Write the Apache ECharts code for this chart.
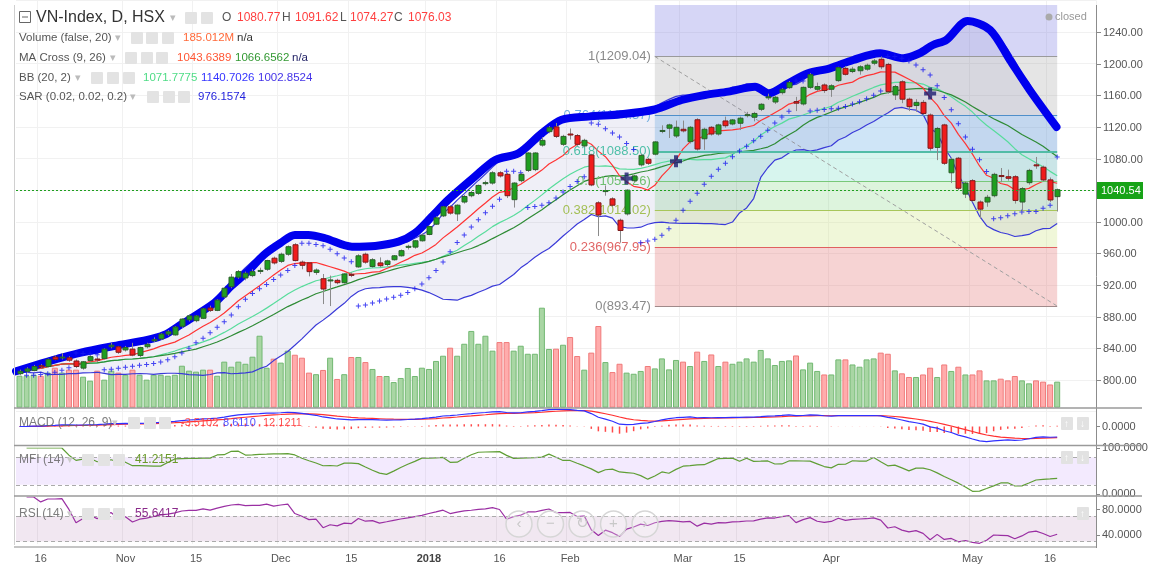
<!DOCTYPE html>
<html>
<head>
<meta charset="utf-8">
<title>VN-Index, D, HSX</title>
<script src="https://cdn.jsdelivr.net/npm/echarts@6.0.0/dist/echarts.min.js"></script>
<style>
  html, body { margin: 0; padding: 0; background: #fff; }
  #main { width: 1151px; height: 564px; }
</style>
</head>
<body>
<div id="main"></div>
<script>
// daily bars, 11 Oct 2017 .. 17 May 2018
var tickIdx = [3, 15, 25, 37, 47, 58, 68, 78, 94, 102, 115, 135, 146];
var tickText = ['16', 'Nov', '15', 'Dec', '15', '2018', '16', 'Feb', 'Mar', '15', 'Apr', 'May', '16'];
var priceTicks = [800, 840, 880, 920, 960, 1000, 1040, 1080, 1120, 1160, 1200, 1240];

var openP = [808,811,812,818,817,829,828,828,824,815, 824.5,826.5,827,842,842,838,839,831,842,849.5,
  852,858,857,868,876,875,878,891,888,905, 918,930,929,932,937.5,940,954,950,959,971,
  949,948,936,928,925.5,926,923,933.5,943,959, 943.5,948,946,952,957,968,968,976,984,997,
  1007.5,1019,1010,1025,1033,1036,1048.5,1049,1062,1060, 1028,1052,1065,1066,1097,1114,1120,1098,1111,1109,
  1096,1084.5,1024,1038.5,1029,1002,1010,1052,1072,1079, 1085.5,1114.5,1118.3,1108.5,1117,1101.4,1129,1105,1119.5,1111,
  1127.5,1123.7,1124.6,1134.5,1132.2,1142.3,1157,1151.5,1163.3,1169.6, 1152,1149,1170,1167.6,1173,1167.6,1178.5,1194,1190,1191,
  1193,1200.5,1205.5,1199,1160.4,1177,1155,1147,1151,1135, 1094,1122.5,1062,1080.4,1035,1052,1025,1025,1033,1058.5,
  1057,1057,1025,1049.5,1072,1069,1053,1031.8];
var closeP = [811,814,817,816.5,826,826,829,825,817,823, 829.5,826,839,844,835,841,831.5,841,845,851,
  858,861,867,877,881,881,890,888,901,916, 930,937,935,937,938.5,951,948,959,968.5,951,
  945,937,939,915,926.5,923,934,932.5,957,949, 952,944.5,950.5,957,963.5,969,976,983,994,1005,
  1019,1011,1021,1032,1037,1046,1049.5,1062,1058,1033, 1049,1060,1087,1087,1103,1119,1108,1108,1110,1098,
  1103,1046.6,1008.6,1039.5,1021,989,1040,1058,1084,1074, 1101,1115.5,1122.5,1119.5,1115,1119.5,1092,1117,1111,1122.5,
  1121.5,1128.8,1131,1135.5,1137,1148.6,1158,1157.5,1167.6,1176, 1150,1170,1186,1171,1166,1172,1195,1186.5,1193,1196,
  1198,1203.4,1196,1164.6,1171,1155,1145.6,1151,1137,1093, 1118,1074,1079,1042.4,1049,1027,1016,1031,1060,1057.5,
  1055,1027,1042,1065,1071,1053,1027.6,1040.54];
var highP = [813,816,819,820,827,831,834,830,826,824, 831,829,840,847,843,843,847,842,847,854,
  859,863,868,878,883,882,891,894,902,917, 934,939,937,940,942,952,956,961,970,973,
  951,949,941,934,932,928,935,936,959,961, 954,955,952,958,965,971,977,985,995,1007,
  1020,1021,1022,1034,1039,1047,1052,1064,1064,1062, 1050,1062,1088,1088,1107,1121,1125,1110,1118,1111,
  1105,1086,1026,1046,1031,1004,1041,1059,1086,1081, 1102,1122,1124,1128,1128,1121,1131,1119,1121,1124,
  1133,1130,1133,1139,1139,1150,1162,1159,1169,1178, 1158,1171,1188,1176,1175,1174,1196,1197,1196,1198,
  1200,1206,1209.04,1201,1173,1179,1157,1155,1154,1137, 1120,1124,1081,1082,1051,1054,1027,1034,1062,1068,
  1066,1059,1044,1067,1082,1071,1056,1042];
var lowP = [806,809,811,815,816,825,826,823,815,813, 823,823,826,840,833,836,830,829,840,848,
  851,856,856,866,874,873,877,886,887,904, 916,928,926,930,934,938,946,948,957,950,
  940,931,933,896,893.47,921,922,930,942,947, 942,943,944,951,956,965,966,975,983,996,
  1006,1009,1001,1023,1031,1034,1046,1047,1056,1030, 1018,1050,1063,1064,1095,1112,1106,1096,1104,1096,
  1094,1045,982,1033,1019,973.6,1008,1050,1070,1072, 1084,1112,1106,1106,1113,1099,1090,1091,1109,1109,
  1119,1122,1116,1132,1127,1140,1154,1149,1161,1168, 1140,1147,1168,1165,1163,1158,1177,1185,1188,1186,
  1191,1198,1193,1162,1154,1150,1140,1139,1135,1090, 1078,1072,1049,1040,1030,1025,1004,1019,1031,1050,
  1052,1023,1013,1047,1067,1051,1025,1013];
// volume, millions of shares
var volume = [227,227,234,227,249,284,249,270,270,220, 192,263,199,263,249,234,270,234,199,234,
  234,227,234,298,263,256,270,270,227,327, 291,327,312,362,511,284,348,320,405,376,
  355,249,238,268,355,204,238,360,360,324, 275,225,225,182,211,282,225,284,275,332,
  369,426,369,454,545,454,511,405,466,466, 405,440,383,383,710,417,419,447,502,367,
  270,391,580,324,253,312,249,241,261,296, 279,350,272,339,327,296,398,332,378,296,
  327,312,327,350,327,410,350,303,332,336, 371,272,320,261,236,236,343,343,307,291,
  343,350,391,383,265,244,218,218,236,284, 218,307,261,291,236,236,265,194,194,206,
  194,225,194,173,194,185,165,185];

// hand drawn blue brush (bar position, price)
var brushIdx = [-0.5,3.9,8.7,13.4,18.1,20.5,22.8,27.6,29.9,32.3, 34.6,37.0,39.0,40.9,43.3,47.1,50.4,53.7,56.0,58.4,
  60.7,64.5,67.4,70.7,74.0,76.8,80.6,85.3,90.0,93.8, 97.1,100.4,104.2,106.1,108.9,111.7,114.8,118.1,121.9,125.2,
  127.5,129.4,131.3,134.3,137.5,140.3,143.1,146.9];
var brushVal = [811,823,834.5,843,850.6,856.9,869.6,897.4,918,937, 958.1,973.3,983.4,983.4,979.2,968.6,969.5,974.9,985.5,1006.5,
  1027.6,1057.1,1078.2,1086.7,1112,1129,1133,1136,1142,1154, 1160.4,1164.6,1170.9,1162.5,1175.2,1187.8,1194.1,1204.6,1213.1,1206.8,
  1213.1,1223.6,1229.9,1254,1242.6,1204.6,1166.7,1119.9];

// fibonacci retracement drawing
var fibStart = 90, fibEnd = 147;
var fibRatios = ['1', '0.764', '0.618', '0.5', '0.382', '0.236', '0'];
var fibPrices = [1209.04, 1134.57, 1088.50, 1051.26, 1014.02, 967.95, 893.47];
var fibTop = 1274;

var FONT = '"Liberation Sans", Arial, sans-serif';
var N = 153;
var n = closeP.length;
var cats = [];
for (var i = 0; i < N; i++) cats.push(String(i));

// price pane geometry
var PRICE_MIN = 760, PRICE_MAX = 1280, PRICE_TOP = 0.36, PRICE_H = 411.25;
function priceY(v) { return PRICE_TOP + (PRICE_MAX - v) / (PRICE_MAX - PRICE_MIN) * PRICE_H; }

function sma(src, len) {
  return src.map(function (v, i) {
    var from = Math.max(0, i - len + 1), s = 0;
    for (var k = from; k <= i; k++) s += src[k];
    return s / (i - from + 1);
  });
}
function stdev(src, len, mean) {
  return src.map(function (v, i) {
    var from = Math.max(0, i - len + 1), s = 0;
    for (var k = from; k <= i; k++) s += Math.pow(src[k] - mean[i], 2);
    return Math.sqrt(s / (i - from + 1));
  });
}
function ema(src, len) {
  var a = 2 / (len + 1), prev = src[0];
  return src.map(function (v, i) {
    prev = i === 0 ? v : a * v + (1 - a) * prev;
    return prev;
  });
}
function rsi(src, len) {
  var out = [null], ag = 0, al = 0;
  for (var i = 1; i < src.length; i++) {
    var d = src[i] - src[i - 1], g = Math.max(d, 0), l = Math.max(-d, 0);
    if (i <= len) { ag = (ag * (i - 1) + g) / i; al = (al * (i - 1) + l) / i; }
    else { ag = (ag * (len - 1) + g) / len; al = (al * (len - 1) + l) / len; }
    out.push(al === 0 ? 100 : 100 - 100 / (1 + ag / al));
  }
  return out;
}
function mfi(h, l, c, v, len) {
  var tp = c.map(function (x, i) { return (h[i] + l[i] + x) / 3; });
  var out = [null];
  for (var i = 1; i < c.length; i++) {
    var pos = 0, neg = 0;
    for (var k = Math.max(1, i - len + 1); k <= i; k++) {
      var mf = tp[k] * v[k];
      if (tp[k] > tp[k - 1]) pos += mf; else if (tp[k] < tp[k - 1]) neg += mf;
    }
    out.push(neg === 0 ? 100 : 100 - 100 / (1 + pos / neg));
  }
  return out;
}
function psar(h, l, step, maxStep) {
  var up = closeP[1] >= closeP[0], af = step;
  var ep = up ? h[0] : l[0], s = up ? l[0] : h[0];
  var out = [null];
  for (var i = 1; i < h.length; i++) {
    s = s + af * (ep - s);
    if (up) {
      s = Math.min(s, l[i - 1], l[Math.max(0, i - 2)]);
      if (l[i] < s) { up = false; s = ep; ep = l[i]; af = step; }
      else if (h[i] > ep) { ep = h[i]; af = Math.min(af + step, maxStep); }
    } else {
      s = Math.max(s, h[i - 1], h[Math.max(0, i - 2)]);
      if (h[i] > s) { up = true; s = ep; ep = h[i]; af = step; }
      else if (l[i] < ep) { ep = l[i]; af = Math.min(af + step, maxStep); }
    }
    out.push(s);
  }
  return out;
}

var ma9 = sma(closeP, 9);
var ma26 = sma(closeP, 26);
var bbMid = sma(closeP, 20);
var bbDev = stdev(closeP, 20, bbMid);
var bbUp = bbMid.map(function (m, i) { return m + 2 * bbDev[i]; });
var bbLo = bbMid.map(function (m, i) { return m - 2 * bbDev[i]; });
var sar = psar(highP, lowP, 0.02, 0.2);
var e12 = ema(closeP, 12), e26 = ema(closeP, 26);
var macd = e12.map(function (v, i) { return v - e26[i]; });
var signal = ema(macd, 9);
var hist = macd.map(function (v, i) { return v - signal[i]; });
var rsiV = rsi(closeP, 14);
var mfiV = mfi(highP, lowP, closeP, volume, 14);

var crossPts = [];
for (i = 27; i < n; i++) {
  var a = ma9[i] - ma26[i], b = ma9[i - 1] - ma26[i - 1];
  if (a * b < 0) crossPts.push([i, (ma9[i] + ma26[i]) / 2]);
}
var macdMax = 0;
macd.concat(signal).forEach(function (v) { macdMax = Math.max(macdMax, Math.abs(v)); });
macdMax *= 1.08;

var plus = 'path://M0,2H5V3H0Z M2,0H3V5H2Z';
var bigPlus = 'path://M0,4H12V8H0Z M4,0H8V12H4Z';

function catAxis(g, withLabels, noSplit) {
  return {
    type: 'category', gridIndex: g, data: cats, boundaryGap: true,
    axisLine: { show: false }, axisTick: { show: false },
    axisLabel: {
      show: !!withLabels, color: '#555', fontSize: 11, margin: 9, fontFamily: FONT,
      interval: function (idx) { return tickIdx.indexOf(idx) >= 0; },
      formatter: function (v, idx) {
        var k = tickIdx.indexOf(idx);
        if (k < 0) return '';
        return tickText[k] === '2018' ? '{b|2018}' : tickText[k];
      },
      rich: { b: { fontWeight: 'bold', color: '#444', fontSize: 11, fontFamily: FONT } }
    },
    splitLine: { show: !noSplit, interval: function (idx) { return tickIdx.indexOf(idx) >= 0; }, lineStyle: { color: '#f1f1f1' } }
  };
}
function rightAxis(g, min, max, ticks, digits) {
  return {
    type: 'value', gridIndex: g, position: 'right', min: min, max: max,
    axisLine: { show: false },
    axisTick: { show: true, length: 4, lineStyle: { color: '#888' }, customValues: ticks },
    axisLabel: { color: '#555', fontSize: 11, margin: 6, fontFamily: FONT, customValues: ticks,
      formatter: function (v) { return v.toFixed(digits); } },
    splitLine: { show: false }
  };
}

var fibZoneColors = ['rgba(120,120,225,0.30)', 'rgba(150,150,150,0.25)', 'rgba(110,175,230,0.33)', 'rgba(110,220,195,0.28)',
  'rgba(120,210,120,0.25)', 'rgba(200,225,120,0.28)', 'rgba(225,110,110,0.30)'];
var fibLineColors = ['#9a9a9a', '#4f8fca', '#52bca6', '#79c879', '#a8c65a', '#e06060', '#a08a8a'];
var fibTextColors = ['#8a8a8a', '#72aee0', '#4fbfa8', '#6fbf6f', '#a3bf55', '#e06666', '#8a8a8a'];
var fibZones = [], fibLines = [];
// zone above level 1, then one zone between each pair of levels
fibZones.push([{ coord: [fibStart, fibTop], itemStyle: { color: fibZoneColors[0] } }, { coord: [fibEnd, fibPrices[0]] }]);
for (i = 1; i < fibPrices.length; i++) {
  fibZones.push([{ coord: [fibStart, fibPrices[i - 1]], itemStyle: { color: fibZoneColors[i] } }, { coord: [fibEnd, fibPrices[i]] }]);
}
fibPrices.forEach(function (p, k) {
  fibLines.push([{
    coord: [fibStart, p],
    lineStyle: { color: fibLineColors[k], width: k === 2 ? 2 : 1.2, type: 'solid' },
    label: { show: true, position: 'start', distance: 4, formatter: fibRatios[k] + '(' + p.toFixed(2) + ')',
      color: fibTextColors[k], fontSize: 13, fontFamily: FONT }
  }, { coord: [fibEnd, p] }]);
});

var volData = volume.map(function (v, k) {
  var up = closeP[k] >= openP[k];
  return { value: v, itemStyle: { color: up ? '#a9d6a4' : '#ffacac', borderColor: up ? '#72b872' : '#f07a7a', borderWidth: 1 } };
});

var series = [
  { type: 'line', name: 'fib', xAxisIndex: 1, yAxisIndex: 0, z: 1, silent: true, symbol: 'none',
    data: [[fibStart, fibPrices[0]], [fibEnd, fibPrices[6]]],
    lineStyle: { color: '#a0a0a0', width: 1, type: [4, 3] },
    markArea: { silent: true, data: fibZones },
    markLine: { silent: true, symbol: 'none', data: fibLines } },
  { type: 'line', xAxisIndex: 0, yAxisIndex: 0, stack: 'bb', symbol: 'none', z: 2, silent: true,
    data: bbLo, lineStyle: { opacity: 0 } },
  { type: 'line', xAxisIndex: 0, yAxisIndex: 0, stack: 'bb', symbol: 'none', z: 2, silent: true,
    data: bbUp.map(function (v, k) { return v - bbLo[k]; }), lineStyle: { opacity: 0 },
    areaStyle: { color: 'rgba(70,70,160,0.12)' } },
  { type: 'bar', xAxisIndex: 2, yAxisIndex: 1, z: 3, barWidth: 6, data: volData },
  { type: 'line', xAxisIndex: 0, yAxisIndex: 0, z: 4, symbol: 'none', data: bbUp, lineStyle: { color: '#3a3ad8', width: 1.2 } },
  { type: 'line', xAxisIndex: 0, yAxisIndex: 0, z: 4, symbol: 'none', data: bbLo, lineStyle: { color: '#3a3ad8', width: 1.2 } },
  { type: 'line', xAxisIndex: 0, yAxisIndex: 0, z: 4, symbol: 'none', data: bbMid, lineStyle: { color: '#58dc9c', width: 1.2 } },
  { type: 'line', xAxisIndex: 0, yAxisIndex: 0, z: 4, symbol: 'none', data: ma26, lineStyle: { color: '#2e8b35', width: 1.2 } },
  { type: 'line', xAxisIndex: 0, yAxisIndex: 0, z: 4, symbol: 'none', data: ma9, lineStyle: { color: '#ff3434', width: 1.2 } },
  { type: 'line', xAxisIndex: 1, yAxisIndex: 0, z: 5, symbol: 'none', smooth: 0.3,
    data: brushIdx.map(function (x, k) { return [x, brushVal[k]]; }),
    lineStyle: { color: '#0000ee', width: 8, cap: 'round', join: 'round' } },
  { type: 'scatter', xAxisIndex: 0, yAxisIndex: 0, z: 6, symbol: plus, symbolSize: 5,
    data: sar.map(function (v, k) { return v === null ? null : [k, v]; }).filter(function (d) { return d; }),
    itemStyle: { color: '#1818f0' } },
  { type: 'custom', xAxisIndex: 0, yAxisIndex: 0, z: 7,
    data: openP.map(function (o, k) { return [k, o, closeP[k], lowP[k], highP[k]]; }),
    encode: { x: 0, y: [1, 2, 3, 4] },
    renderItem: function (params, api) {
      var x = api.value(0), o = api.value(1), c = api.value(2), lo = api.value(3), hi = api.value(4);
      var pO = api.coord([x, o]), pC = api.coord([x, c]), pL = api.coord([x, lo]), pH = api.coord([x, hi]);
      var up = c >= o;
      var top = Math.min(pO[1], pC[1]), bot = Math.max(pO[1], pC[1]);
      var cx = Math.round(pO[0]) + 0.5;
      return { type: 'group', children: [
        { type: 'line', shape: { x1: cx, y1: pH[1], x2: cx, y2: pL[1] }, style: { stroke: '#8a8a8a', lineWidth: 1 } },
        { type: 'rect', shape: { x: cx - 2.5, y: top, width: 5, height: Math.max(bot - top, 1) },
          style: { fill: up ? '#1f9e1f' : '#f01c1c', stroke: up ? '#2d5f2d' : '#7c1c1c', lineWidth: 1 } }
      ] };
    } },
  { type: 'scatter', xAxisIndex: 0, yAxisIndex: 0, z: 8, symbol: bigPlus, symbolSize: 12,
    data: crossPts, itemStyle: { color: '#1c1c6e' } },
  // MACD
  { type: 'bar', xAxisIndex: 3, yAxisIndex: 2, barWidth: 1.5, data: hist, itemStyle: { color: '#ff4a4a' } },
  { type: 'line', xAxisIndex: 3, yAxisIndex: 2, symbol: 'none', data: signal, lineStyle: { color: '#ff3030', width: 1.2 } },
  { type: 'line', xAxisIndex: 3, yAxisIndex: 2, symbol: 'none', data: macd, lineStyle: { color: '#3030ff', width: 1.2 } },
  // MFI
  { type: 'line', xAxisIndex: 4, yAxisIndex: 3, symbol: 'none', data: mfiV, lineStyle: { color: '#5f9e35', width: 1.2 },
    markArea: { silent: true, itemStyle: { color: 'rgba(185,130,250,0.17)' }, data: [[{ yAxis: 20 }, { yAxis: 80 }]] },
    markLine: { silent: true, symbol: 'none', lineStyle: { color: '#aaa', type: [4, 3], width: 1 }, label: { show: false },
      data: [{ yAxis: 20 }, { yAxis: 80 }] } },
  // RSI
  { type: 'line', xAxisIndex: 5, yAxisIndex: 4, symbol: 'none', data: rsiV, lineStyle: { color: '#9a2fa3', width: 1.2 },
    markArea: { silent: true, itemStyle: { color: 'rgba(150,70,150,0.13)' }, data: [[{ yAxis: 30 }, { yAxis: 70 }]] },
    markLine: { silent: true, symbol: 'none', lineStyle: { color: '#aaa', type: [4, 3], width: 1 }, label: { show: false },
      data: [{ yAxis: 30 }, { yAxis: 70 }] } }
];

// header texts and widgets
var G = [];
function txt(x, y, s, color, size, extra) {
  var el = { type: 'text', z: 100, silent: true,
    style: { x: x, y: y, text: s, fill: color, font: (size || 11) + 'px ' + FONT, verticalAlign: 'middle', align: 'left' } };
  if (extra) for (var key in extra) el.style[key] = extra[key];
  return el;
}
function box(x, y, w, h, fill) {
  return { type: 'rect', z: 100, silent: true, shape: { x: x, y: y, width: w, height: h, r: 1 }, style: { fill: fill || '#e3e3e3' } };
}
function hline(x1, x2, y, color, w, dash) {
  var el = { type: 'line', z: 90, silent: true, shape: { x1: x1, y1: y, x2: x2, y2: y }, style: { stroke: color, lineWidth: w } };
  if (dash) el.style.lineDash = dash;
  return el;
}
function vline(x, y1, y2, color, w) {
  return { type: 'line', z: 90, silent: true, shape: { x1: x, y1: y1, x2: x, y2: y2 }, style: { stroke: color, lineWidth: w } };
}
function icons(xs, y) {
  xs.forEach(function (x) { G.push(box(x, y - 6, 12, 12)); });
}

// frame
G.push(vline(14.5, 5, 545, '#d0d0d0', 1));
G.push(vline(1096.5, 5, 548, '#8c8c8c', 1));
G.push(hline(14, 1142, 408, '#9a9a9a', 1.5));
G.push(hline(14, 1142, 445.5, '#9a9a9a', 1.5));
G.push(hline(14, 1142, 496, '#9a9a9a', 1.5));
G.push(hline(14, 1097, 547, '#8c8c8c', 1.2));

// price axis ticks and labels, last price line and tag
var lastY = Math.round(priceY(closeP[n - 1])) + 0.5;
priceTicks.forEach(function (v) {
  var y = Math.round(priceY(v)) + 0.5;
  G.push(hline(1097, 1101, y, '#888', 1));
  if (Math.abs(y - lastY) > 10) G.push(txt(1103, y, v.toFixed(2), '#555', 11));
});
var lastLine = hline(16, 1096, lastY, '#1f9f1f', 1, [2, 2]);
lastLine.z = 60;
G.push(lastLine);
G.push({ type: 'rect', z: 100, silent: true, shape: { x: 1097, y: lastY - 8.5, width: 46, height: 17 }, style: { fill: '#17a317' } });
G.push(txt(1101, lastY, closeP[n - 1].toFixed(2), '#fff', 11));

// row 1
G.push({ type: 'rect', z: 100, silent: true, shape: { x: 19.5, y: 11.5, width: 11, height: 11 }, style: { fill: 'none', stroke: '#666', lineWidth: 1 } });
G.push(hline(22, 28, 17, '#666', 1));
G.push(txt(36, 18, 'VN-Index, D, HSX', '#333', 16));
G.push(txt(170, 18, '▾', '#bbb', 11));
icons([185, 201], 18);
G.push(txt(222, 18, 'O', '#555', 12));
G.push(txt(237, 18, '1080.77', '#ff3f3f', 12));
G.push(txt(282, 18, 'H', '#555', 12));
G.push(txt(295, 18, '1091.62', '#ff3f3f', 12));
G.push(txt(340, 18, 'L', '#555', 12));
G.push(txt(350, 18, '1074.27', '#ff3f3f', 12));
G.push(txt(394, 18, 'C', '#555', 12));
G.push(txt(408, 18, '1076.03', '#ff3f3f', 12));
// row 2
G.push(txt(19, 38, 'Volume (false, 20)', '#555', 11.5));
G.push(txt(115, 38, '▾', '#bbb', 11));
icons([131, 146, 162], 38);
G.push(txt(183, 38, '185.012M', '#ff6a3a', 11.5));
G.push(txt(237, 38, 'n/a', '#333', 11.5));
// row 3
G.push(txt(19, 58, 'MA Cross (9, 26)', '#555', 11.5));
G.push(txt(110, 58, '▾', '#bbb', 11));
icons([125, 141, 156], 58);
G.push(txt(177, 58, '1043.6389', '#ff5533', 11.5));
G.push(txt(235, 58, '1066.6562', '#339933', 11.5));
G.push(txt(292, 58, 'n/a', '#222266', 11.5));
// row 4
G.push(txt(19, 78, 'BB (20, 2)', '#555', 11.5));
G.push(txt(75, 78, '▾', '#bbb', 11));
icons([91, 107, 123], 78);
G.push(txt(143, 78, '1071.7775', '#4fdc86', 11.5));
G.push(txt(201, 78, '1140.7026', '#3535ff', 11.5));
G.push(txt(258, 78, '1002.8524', '#4433e8', 11.5));
// row 5
G.push(txt(19, 97, 'SAR (0.02, 0.02, 0.2)', '#555', 11.5));
G.push(txt(130, 97, '▾', '#bbb', 11));
icons([147, 163, 178], 97);
G.push(txt(198, 97, '976.1574', '#2323dd', 11.5));

// sub panes
G.push(txt(19, 423, 'MACD (12, 26, 9)', '#666', 12, { opacity: 0.85 }));
G.push(txt(112, 423, '▾', '#ccc', 11));
icons([128, 144, 159], 423);
G.push(txt(181, 423, '-3.5102', '#ff3b3b', 11, { opacity: 0.9 }));
G.push(txt(223, 423, '8.6110', '#3b3bff', 11, { opacity: 0.9 }));
G.push(txt(263, 423, '12.1211', '#ff3b3b', 11, { opacity: 0.9 }));
G.push(txt(19, 460, 'MFI (14)', '#666', 12, { opacity: 0.85 }));
G.push(txt(67, 460, '▾', '#ccc', 11));
icons([82, 98, 113], 460);
G.push(txt(135, 460, '41.2151', '#6a9a2a', 12));
G.push(txt(19, 514, 'RSI (14)', '#666', 12, { opacity: 0.85 }));
G.push(txt(67, 514, '▾', '#ccc', 11));
icons([82, 98, 113], 514);
G.push(txt(135, 514, '55.6417', '#8a2a8a', 12));

// pane arrows
[[1061, 424, '↑'], [1077, 424, '↓'], [1061, 458, '↑'], [1077, 458, '↓'], [1077, 514, '↑']].forEach(function (p) {
  G.push(box(p[0], p[1] - 7, 12, 13, '#e2e2e2'));
  G.push(txt(p[0] + 3, p[1], p[2], '#fff', 10));
});

// closed marker
G.push({ type: 'circle', z: 100, silent: true, shape: { cx: 1049, cy: 17, r: 3.5 }, style: { fill: '#aaa' } });
G.push(txt(1055, 17, 'closed', '#999', 11));

// navigation buttons
['‹', '−', '↻', '+', '›'].forEach(function (s, k) {
  var cx = 519 + k * 31.5;
  G.push({ type: 'circle', z: 100, silent: true, shape: { cx: cx, cy: 524, r: 13 },
    style: { fill: 'rgba(255,255,255,0.25)', stroke: '#d6d6d6', lineWidth: 1.5 } });
  G.push(txt(cx, 524, s, '#c8c8c8', 15, { align: 'center' }));
});

var chart = echarts.init(document.getElementById('main'), null, { renderer: 'canvas' });
chart.setOption({
  animation: false,
  backgroundColor: '#fff',
  textStyle: { fontFamily: FONT },
  grid: [
    { left: 16, width: 1080, top: PRICE_TOP, height: PRICE_H },
    { left: 16, width: 1080, top: 207.7, height: 200 },
    { left: 16, width: 1080, top: 408, height: 37 },
    { left: 16, width: 1080, top: 448, height: 46 },
    { left: 16, width: 1080, top: 497, height: 48 }
  ],
  xAxis: [
    catAxis(0, false),
    { type: 'value', gridIndex: 0, min: -0.5, max: N - 0.5, show: false, splitLine: { show: false } },
    catAxis(1, false, true),
    catAxis(2, false),
    catAxis(3, false),
    catAxis(4, true)
  ],
  yAxis: [
    { type: 'value', gridIndex: 0, position: 'right', min: PRICE_MIN, max: PRICE_MAX, interval: 40,
      axisLine: { show: false }, axisTick: { show: false }, axisLabel: { show: false },
      splitLine: { show: true, lineStyle: { color: '#f1f1f1' } } },
    { type: 'value', gridIndex: 1, min: 0, max: 1420, show: false, splitLine: { show: false } },
    rightAxis(2, -macdMax, macdMax, [0], 4),
    rightAxis(3, 0, 100, [0, 100], 4),
    rightAxis(4, 26.15, 100, [40, 80], 4)
  ],
  series: series,
  graphic: G
});
</script>
</body>
</html>
